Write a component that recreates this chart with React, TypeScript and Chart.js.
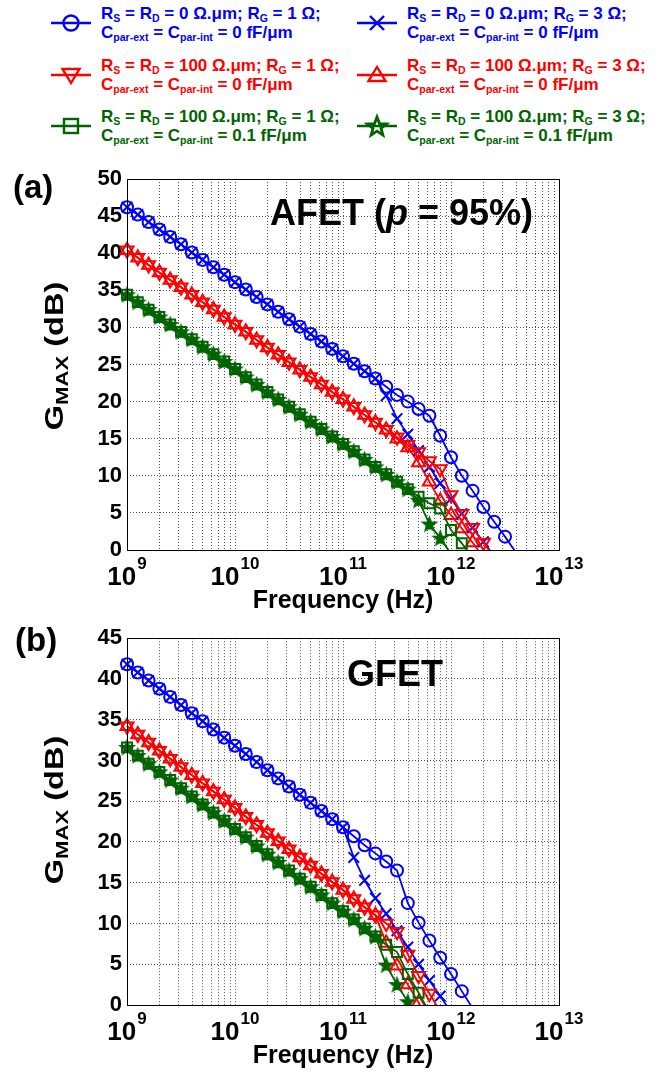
import React, { useEffect, useRef } from "react";
import { Chart, registerables } from "chart.js";

Chart.register(...registerables);

const FONT = "'Liberation Sans', Arial, Helvetica, sans-serif";
const BLUE = "#0000ff";
const RED = "#ff0000";
const GREEN = "#006400";
const GRID = "rgba(50,50,50,0.85)";

// log10(frequency / Hz) of the sampled points (10 per decade)
const F_EXP = [
  9.0, 9.1, 9.2, 9.3, 9.4, 9.5, 9.6, 9.7, 9.8, 9.9,
  10.0, 10.1, 10.2, 10.3, 10.4, 10.5, 10.6, 10.7, 10.8, 10.9,
  11.0, 11.1, 11.2, 11.3, 11.4, 11.5, 11.6, 11.7, 11.8, 11.9,
  12.0, 12.1, 12.2, 12.3, 12.4, 12.5, 12.6,
];

const X_DECADES = [1e9, 1e10, 1e11, 1e12, 1e13];
const X_EXPONENTS = ["9", "10", "11", "12", "13"];
const X_MINOR = [2, 3, 4, 5, 6, 7, 8, 9];

// (a) AFET p = 95%
const A_B1 = [46.2, 45.2, 44.2, 43.2, 42.2, 41.2, 40.1, 39.1, 38.1, 37.1,
  36.1, 35.1, 34.1, 33.1, 32.1, 31.1, 30.1, 29.1, 28.1, 27.1,
  26.1, 25.1, 24.1, 23.1, 22.0, 20.9, 20.0, 19.0, 18.1, 15.4,
  12.5, 10.0, 8.0, 5.8, 3.8, 1.8, -0.3];
const A_B3 = [46.2, 45.2, 44.2, 43.2, 42.2, 41.2, 40.1, 39.1, 38.1, 37.1,
  36.1, 35.1, 34.1, 33.1, 32.1, 31.1, 30.1, 29.1, 28.1, 27.1,
  26.1, 25.1, 24.1, 23.1, 20.8, 17.7, 15.6, 13.4, 11.2, 9.0,
  6.9, 4.9, 3.0, 1.1, -0.8];
const A_R1 = [40.4, 39.4, 38.4, 37.4, 36.4, 35.4, 34.4, 33.4, 32.4, 31.4,
  30.4, 29.4, 28.3, 27.3, 26.3, 25.3, 24.3, 23.3, 22.3, 21.3,
  20.3, 19.3, 18.2, 17.2, 16.2, 15.2, 14.2, 13.2, 12.0, 10.9,
  7.4, 4.9, 3.0, 1.0, -1.0];
const A_R3 = [40.4, 39.4, 38.4, 37.4, 36.4, 35.4, 34.4, 33.4, 32.4, 31.4,
  30.4, 29.4, 28.3, 27.3, 26.3, 25.3, 24.3, 23.3, 22.3, 21.3,
  20.3, 19.3, 18.2, 17.2, 16.2, 15.0, 13.8, 11.8, 9.2, 6.6,
  4.7, 2.9, 1.0, -1.0];
const A_G1 = [34.4, 33.4, 32.4, 31.4, 30.4, 29.4, 28.4, 27.4, 26.4, 25.4,
  24.4, 23.3, 22.3, 21.3, 20.3, 19.3, 18.3, 17.3, 16.3, 15.3,
  14.3, 13.3, 12.2, 11.2, 10.2, 9.2, 8.2, 7.2, 6.3, 5.6,
  2.7, 0.9, -1.0];
const A_G3 = [34.4, 33.4, 32.4, 31.4, 30.4, 29.4, 28.4, 27.4, 26.4, 25.4,
  24.4, 23.3, 22.3, 21.3, 20.3, 19.3, 18.3, 17.3, 16.3, 15.3,
  14.3, 13.3, 12.2, 11.2, 10.2, 9.2, 8.2, 6.7, 3.5, 1.6,
  -0.5];

// (b) GFET
const B_B1 = [41.8, 40.8, 39.8, 38.8, 37.8, 36.8, 35.8, 34.8, 33.8, 32.8,
  31.8, 30.8, 29.8, 28.8, 27.8, 26.8, 25.8, 24.8, 23.8, 22.8,
  21.8, 20.7, 19.6, 18.6, 17.6, 16.5, 12.5, 10.1, 7.9, 5.8,
  3.8, 1.7, -0.4];
const B_B3 = [41.8, 40.8, 39.8, 38.8, 37.8, 36.8, 35.8, 34.8, 33.8, 32.8,
  31.8, 30.8, 29.8, 28.8, 27.8, 26.8, 25.8, 24.8, 23.8, 22.8,
  21.8, 18.1, 15.3, 13.1, 11.2, 9.1, 7.1, 5.0, 3.0, 1.1,
  -0.9];
const B_R1 = [34.2, 33.2, 32.2, 31.2, 30.2, 29.2, 28.2, 27.2, 26.2, 25.2,
  24.2, 23.1, 22.1, 21.1, 20.1, 19.1, 18.1, 17.1, 16.1, 15.1,
  14.1, 13.0, 12.0, 11.0, 10.0, 9.0, 6.2, 3.6, 1.4, -0.8];
const B_R3 = [34.2, 33.2, 32.2, 31.2, 30.2, 29.2, 28.2, 27.2, 26.2, 25.2,
  24.2, 23.1, 22.1, 21.1, 20.1, 19.1, 18.1, 17.1, 16.1, 15.1,
  14.1, 13.0, 12.0, 11.0, 7.6, 4.8, 2.5, 0.3, -1.9];
const B_G1 = [31.6, 30.6, 29.6, 28.6, 27.6, 26.6, 25.6, 24.6, 23.6, 22.6,
  21.6, 20.6, 19.5, 18.5, 17.5, 16.5, 15.5, 14.5, 13.5, 12.5,
  11.5, 10.5, 9.4, 8.4, 7.4, 6.5, 3.8, 1.5, -0.9];
const B_G3 = [31.6, 30.6, 29.6, 28.6, 27.6, 26.6, 25.6, 24.6, 23.6, 22.6,
  21.6, 20.6, 19.5, 18.5, 17.5, 16.5, 15.5, 14.5, 13.5, 12.5,
  11.5, 10.5, 9.4, 8.4, 4.9, 2.5, 0.4, -1.8];

const Y_MAX_A = 50;
const Y_MAX_B = 45;
const Y_STEP = 5;

function toPoints(vals: number[]) {
  return vals.map((v, i) => ({ x: Math.pow(10, F_EXP[i]), y: v }));
}

function makeStar(R: number, color: string): HTMLCanvasElement {
  const size = Math.ceil(R * 2 + 4);
  const c = document.createElement("canvas");
  c.width = size;
  c.height = size;
  const g = c.getContext("2d")!;
  g.translate(size / 2, size / 2 + 0.5);
  g.beginPath();
  for (let k = 0; k < 10; k++) {
    const r = k % 2 === 0 ? R : R * 0.42;
    const a = -Math.PI / 2 + (k * Math.PI) / 5;
    g.lineTo(r * Math.cos(a), r * Math.sin(a));
  }
  g.closePath();
  g.fillStyle = color;
  g.fill();
  g.strokeStyle = color;
  g.lineWidth = 1.4;
  g.stroke();
  return c;
}

function series(vals: number[], color: string, style: any, radius: number, rotation = 0) {
  return {
    data: toPoints(vals),
    borderColor: color,
    backgroundColor: "rgba(0,0,0,0)",
    borderWidth: 1.8,
    pointStyle: style,
    pointRadius: (c: any) => (c.raw && c.raw.y < 0 ? 0 : radius),
    pointBorderWidth: 2,
    pointBorderColor: color,
    pointBackgroundColor: "rgba(0,0,0,0)",
    pointRotation: rotation,
    tension: 0,
    fill: false,
    clip: { left: false, top: false, right: false, bottom: 0 },
  };
}

const frameLabels = {
  id: "frameLabels",
  afterDraw(chart: any) {
    const { ctx, chartArea: a, scales } = chart;
    ctx.save();
    ctx.strokeStyle = "#000";
    ctx.lineWidth = 1;
    const l = Math.round(a.left) + 0.5;
    const t = Math.round(a.top) + 0.5;
    const r = Math.round(a.right) + 0.5;
    const b = Math.round(a.bottom) + 0.5;
    ctx.strokeRect(l, t, r - l, b - t);
    const xs = scales.x;
    const base = a.bottom + 35;
    ctx.fillStyle = "#000";
    ctx.textAlign = "left";
    ctx.textBaseline = "alphabetic";
    X_DECADES.forEach((v, i) => {
      const px = xs.getPixelForValue(v);
      ctx.font = `bold 26px ${FONT}`;
      const w1 = ctx.measureText("10").width;
      ctx.font = `bold 17px ${FONT}`;
      const w2 = ctx.measureText(X_EXPONENTS[i]).width;
      const start = px - (w1 + w2 + 1) / 2;
      ctx.font = `bold 26px ${FONT}`;
      ctx.fillText("10", start, base);
      ctx.font = `bold 17px ${FONT}`;
      ctx.fillText(X_EXPONENTS[i], start + w1 + 1, base - 16);
    });
    ctx.restore();
  },
};

function buildChart(canvas: HTMLCanvasElement, datasets: any[], yMax: number, pad: any) {
  const xGrid: number[] = [];
  X_DECADES.forEach((d, i) => {
    xGrid.push(d);
    if (i < X_DECADES.length - 1) X_MINOR.forEach((m) => xGrid.push(d * m));
  });
  return new Chart(canvas, {
    type: "line",
    data: { datasets },
    options: {
      animation: false,
      responsive: false,
      events: [],
      layout: { padding: pad },
      plugins: { legend: { display: false }, tooltip: { enabled: false } },
      scales: {
        x: {
          type: "logarithmic",
          min: 1e9,
          max: 1e13,
          afterBuildTicks: (s: any) => {
            s.ticks = xGrid.map((v) => ({ value: v }));
          },
          afterFit: (s: any) => {
            s.height = 0;
          },
          ticks: { display: false },
          grid: { color: GRID, lineWidth: 1, drawTicks: false },
          border: { display: false, dash: [1, 2] },
        },
        y: {
          type: "linear",
          min: 0,
          max: yMax,
          afterFit: (s: any) => {
            s.width = 127;
          },
          ticks: {
            stepSize: Y_STEP,
            color: "#000",
            padding: 5,
            font: { family: FONT, size: 22, weight: "bold" },
          },
          grid: { color: GRID, lineWidth: 1, drawTicks: false },
          border: { display: false, dash: [1, 2] },
        },
      },
    } as any,
    plugins: [frameLabels],
  });
}

const SUB: React.CSSProperties = { fontSize: "0.62em", verticalAlign: "-0.32em", lineHeight: 0 };

function Txt(props: { x: number; base: number; size: number; color?: string; center?: boolean; children: any }) {
  const { x, base, size, color = "#000", center, children } = props;
  return (
    <div
      style={{
        position: "absolute",
        left: x,
        top: base - 0.8465 * size,
        fontSize: size,
        lineHeight: 1,
        fontWeight: "bold",
        color,
        whiteSpace: "nowrap",
        transform: center ? "translateX(-50%)" : undefined,
      }}
    >
      {children}
    </div>
  );
}

function YTitle(props: { cx: number; cy: number }) {
  return (
    <div
      style={{
        position: "absolute",
        left: props.cx,
        top: props.cy,
        fontSize: 25,
        lineHeight: 1,
        fontWeight: "bold",
        whiteSpace: "nowrap",
        transform: "translate(-50%,-50%) rotate(-90deg) scaleX(1.3)",
      }}
    >
      G<span style={{ ...SUB, fontSize: "0.68em" }}>MAX</span> (dB)
    </div>
  );
}

function pentagram(cx: number, cy: number, R: number) {
  const pts: string[] = [];
  for (let k = 0; k < 10; k++) {
    const r = k % 2 === 0 ? R : R * 0.42;
    const a = -Math.PI / 2 + (k * Math.PI) / 5;
    pts.push(`${(cx + r * Math.cos(a)).toFixed(2)},${(cy + r * Math.sin(a)).toFixed(2)}`);
  }
  return pts.join(" ");
}

function LegendSymbols() {
  const L = 71;
  const Rr = 377;
  const ys = [23, 75, 126];
  const sw = 2.4;
  return (
    <svg width={662} height={150} style={{ position: "absolute", left: 0, top: 0 }}>
      {[L, Rr].map((cx) =>
        ys.map((y, i) => (
          <line key={`${cx}-${y}`} x1={cx - 20} x2={cx + 20} y1={y} y2={y}
            stroke={i === 0 ? BLUE : i === 1 ? RED : GREEN} strokeWidth={sw} />
        ))
      )}
      <circle cx={L} cy={ys[0]} r={7.5} fill="none" stroke={BLUE} strokeWidth={sw} />
      <line x1={Rr - 7} y1={ys[0] - 7} x2={Rr + 7} y2={ys[0] + 7} stroke={BLUE} strokeWidth={sw} />
      <line x1={Rr - 7} y1={ys[0] + 7} x2={Rr + 7} y2={ys[0] - 7} stroke={BLUE} strokeWidth={sw} />
      <polygon points={`${L - 8.5},${ys[1] - 6} ${L + 8.5},${ys[1] - 6} ${L},${ys[1] + 8}`} fill="none" stroke={RED} strokeWidth={sw} />
      <polygon points={`${Rr - 8.5},${ys[1] + 6} ${Rr + 8.5},${ys[1] + 6} ${Rr},${ys[1] - 8}`} fill="none" stroke={RED} strokeWidth={sw} />
      <rect x={L - 7} y={ys[2] - 7} width={14} height={14} fill="none" stroke={GREEN} strokeWidth={sw} />
      <polygon points={pentagram(Rr, ys[2] + 1, 10)} fill="none" stroke={GREEN} strokeWidth={2.8} />
    </svg>
  );
}

function LegendText(props: { x: number; base: number; color: string; rs: string; rg: string; c: string }) {
  const { x, base, color, rs, rg, c } = props;
  return (
    <>
      <Txt x={x} base={base} size={17} color={color}>
        R<span style={SUB}>S</span> = R<span style={SUB}>D</span> = {rs} Ω.μm; R<span style={SUB}>G</span> = {rg} Ω;
      </Txt>
      <Txt x={x} base={base + 19} size={17} color={color}>
        C<span style={SUB}>par-ext</span> = C<span style={SUB}>par-int</span> = {c} fF/μm
      </Txt>
    </>
  );
}

export default function App() {
  const refA = useRef<HTMLCanvasElement>(null);
  const refB = useRef<HTMLCanvasElement>(null);

  useEffect(() => {
    const star = makeStar(7.5, GREEN);
    const chartA = buildChart(
      refA.current!,
      [
        series(A_B1, BLUE, "circle", 6),
        series(A_R1, RED, "triangle", 7.5, 180),
        series(A_G1, GREEN, "rect", 7),
        series(A_B3, BLUE, "crossRot", 7.5),
        series(A_R3, RED, "triangle", 7.5),
        series(A_G3, GREEN, star, 7.5),
      ],
      Y_MAX_A,
      { left: 0, right: 103, top: 29, bottom: 70 }
    );
    const chartB = buildChart(
      refB.current!,
      [
        series(B_B1, BLUE, "circle", 6),
        series(B_R1, RED, "triangle", 7.5, 180),
        series(B_G1, GREEN, "rect", 7),
        series(B_B3, BLUE, "crossRot", 7.5),
        series(B_R3, RED, "triangle", 7.5),
        series(B_G3, GREEN, star, 7.5),
      ],
      Y_MAX_B,
      { left: 0, right: 103, top: 13, bottom: 69 }
    );
    return () => {
      chartA.destroy();
      chartB.destroy();
    };
  }, []);

  return (
    <div
      style={{
        position: "absolute",
        left: 0,
        top: 0,
        width: 662,
        height: 1074,
        background: "#fff",
        fontFamily: FONT,
        overflow: "hidden",
      }}
    >
      <canvas ref={refA} width={662} height={470} style={{ position: "absolute", left: 0, top: 150, width: 662, height: 470 }} />
      <canvas ref={refB} width={662} height={454} style={{ position: "absolute", left: 0, top: 620, width: 662, height: 454 }} />

      <LegendSymbols />
      <LegendText x={101} base={19} color={BLUE} rs="0" rg="1" c="0" />
      <LegendText x={407} base={19} color={BLUE} rs="0" rg="3" c="0" />
      <LegendText x={101} base={71} color={RED} rs="100" rg="1" c="0" />
      <LegendText x={407} base={71} color={RED} rs="100" rg="3" c="0" />
      <LegendText x={101} base={122} color={GREEN} rs="100" rg="1" c="0.1" />
      <LegendText x={407} base={122} color={GREEN} rs="100" rg="3" c="0.1" />

      <Txt x={13} base={198} size={33}>(a)</Txt>
      <Txt x={15} base={651} size={33}>(b)</Txt>
      <Txt x={270} base={225} size={36}>
        AFET (<i>p</i> = 95%)
      </Txt>
      <Txt x={347} base={686} size={36}>GFET</Txt>
      <Txt x={343} base={608} size={25} center>Frequency (Hz)</Txt>
      <Txt x={343} base={1063} size={25} center>Frequency (Hz)</Txt>
      <YTitle cx={54} cy={356} />
      <YTitle cx={54} cy={810} />
    </div>
  );
}
